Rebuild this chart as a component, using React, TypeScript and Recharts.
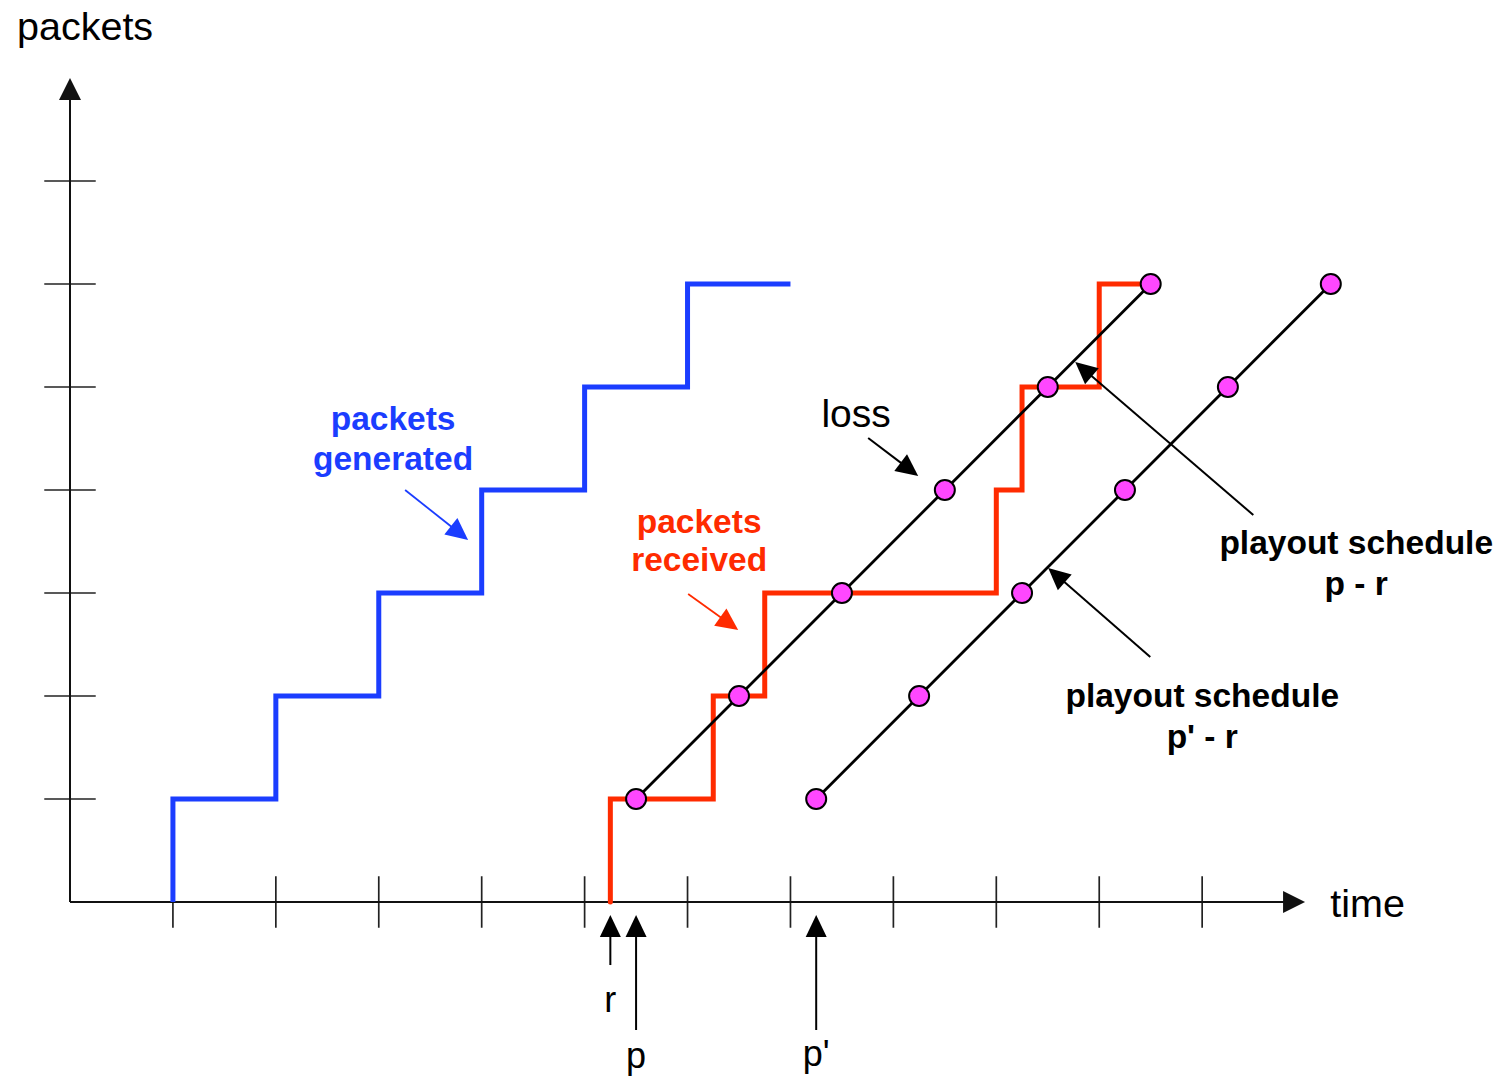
import React from 'react';
import { ComposedChart, Line, XAxis, YAxis, ReferenceLine, ReferenceDot } from 'recharts';

// ---- data (time units on x, packet count on y) ----
const packetCounts = [0, 1, 2, 3, 4, 5, 6];
const generatedTimes = [1, 2, 3, 4, 5, 6, 7];
const receivedTimes = [5.25, 6.25, 6.75, 9, 9.25, 10, 10.5];
const playoutCounts = [1, 2, 3, 4, 5, 6];
const playoutTimesP = [5.5, 6.5, 7.5, 8.5, 9.5, 10.5];
const playoutTimesP2 = [7.25, 8.25, 9.25, 10.25, 11.25, 12.25];
const xTicks = [1, 2, 3, 4, 5, 6, 7, 8, 9, 10, 11];
const yTicks = [1, 2, 3, 4, 5, 6, 7];

const generatedData = generatedTimes.map((x, i) => ({ x, y: packetCounts[i] }));
const receivedData = receivedTimes.map((x, i) => ({ x, y: packetCounts[i] }));
const scheduleP = playoutTimesP.map((x, i) => ({ x, y: playoutCounts[i] }));
const scheduleP2 = playoutTimesP2.map((x, i) => ({ x, y: playoutCounts[i] }));

// ---- annotations (in data units) ----
const BLUE = '#1b3dff';
const RED = '#ff2b00';
const PINK = '#ff47ff';
const FONT = '"Liberation Sans", Arial, Helvetica, sans-serif';
const TICK_HALF_X = 0.25; // half-length of x ticks in y units
const TICK_HALF_Y = 0.25; // half-length of y ticks in x units

const axisArrows = [
  { from: [0, 0], to: [12, 0] },
  { from: [0, 0], to: [0, 8] },
];

const noteArrows = [
  { from: [7.755, 4.505], to: [8.241, 4.136], color: '#000' },
  { from: [11.497, 3.757], to: [9.767, 5.243], color: '#000' },
  { from: [10.496, 2.379], to: [9.504, 3.243], color: '#000' },
  { from: [3.256, 4.0], to: [3.868, 3.515], color: BLUE },
  { from: [6.006, 2.99], to: [6.492, 2.641], color: RED },
  { from: [5.25, -0.612], to: [5.25, -0.126], color: '#000' },
  { from: [5.5, -1.243], to: [5.5, -0.126], color: '#000' },
  { from: [7.25, -1.243], to: [7.25, -0.126], color: '#000' },
];

const labels = [
  { text: 'packets', x: -0.515, y: 8.369, anchor: 'start', size: 39.5, bold: false, color: '#000' },
  { text: 'time', x: 12.245, y: -0.146, anchor: 'start', size: 39.5, bold: false, color: '#000' },
  { text: 'loss', x: 7.638, y: 4.612, anchor: 'middle', size: 39, bold: false, color: '#000' },
  { text: 'packets', x: 3.139, y: 4.583, anchor: 'middle', size: 33.5, bold: true, color: BLUE },
  { text: 'generated', x: 3.139, y: 4.194, anchor: 'middle', size: 33.5, bold: true, color: BLUE },
  { text: 'packets', x: 6.113, y: 3.583, anchor: 'middle', size: 33.5, bold: true, color: RED },
  { text: 'received', x: 6.113, y: 3.214, anchor: 'middle', size: 33.5, bold: true, color: RED },
  { text: 'playout schedule', x: 12.497, y: 3.379, anchor: 'middle', size: 33.5, bold: true, color: '#000' },
  { text: 'p - r', x: 12.497, y: 2.981, anchor: 'middle', size: 33.5, bold: true, color: '#000' },
  { text: 'playout schedule', x: 11.001, y: 1.893, anchor: 'middle', size: 33.5, bold: true, color: '#000' },
  { text: "p' - r", x: 11.001, y: 1.495, anchor: 'middle', size: 33.5, bold: true, color: '#000' },
  { text: 'r', x: 5.248, y: -1.068, anchor: 'middle', size: 36, bold: false, color: '#000' },
  { text: 'p', x: 5.5, y: -1.612, anchor: 'middle', size: 36, bold: false, color: '#000' },
  { text: "p'", x: 7.25, y: -1.592, anchor: 'middle', size: 36, bold: false, color: '#000' },
];

const makeArrow = (color: string, width: number, headLen: number, headHalf: number) => (props: any) => {
  const { x1, y1, x2, y2 } = props;
  const dx = x2 - x1;
  const dy = y2 - y1;
  const len = Math.hypot(dx, dy) || 1;
  const ux = dx / len;
  const uy = dy / len;
  const bx = x2 - ux * headLen;
  const by = y2 - uy * headLen;
  const px = -uy;
  const py = ux;
  return (
    <g>
      <line x1={x1} y1={y1} x2={bx + ux * 2} y2={by + uy * 2} stroke={color} strokeWidth={width} />
      <polygon
        points={`${x2},${y2} ${bx + px * headHalf},${by + py * headHalf} ${bx - px * headHalf},${by - py * headHalf}`}
        fill={color}
      />
    </g>
  );
};

const tickShape = (props: any) => (
  <line x1={props.x1} y1={props.y1} x2={props.x2} y2={props.y2} stroke="#222" strokeWidth={1.7} />
);

const makeText = (l: any) => (props: any) => (
  <text
    x={props.cx}
    y={props.cy}
    textAnchor={l.anchor}
    fontSize={l.size}
    fontWeight={l.bold ? 'bold' : 'normal'}
    fontFamily={FONT}
    fill={l.color}
  >
    {l.text}
  </text>
);

const PlayDot = (props: any) => {
  const { cx, cy } = props;
  return <circle cx={cx} cy={cy} r={10} fill={PINK} stroke="#000" strokeWidth={2} />;
};

export default function App() {
  return (
    <div style={{ position: 'absolute', left: 0, top: 0, background: '#fff' }}>
      <ComposedChart width={1503} height={1076} margin={{ top: 78, right: 95, bottom: 174, left: 70 }}>
        <XAxis type="number" dataKey="x" domain={[0, 13]} hide />
        <YAxis type="number" dataKey="y" domain={[0, 8]} hide />
        {xTicks.map((t) => (
          <ReferenceLine
            key={`xt${t}`}
            segment={[{ x: t, y: -TICK_HALF_X }, { x: t, y: TICK_HALF_X }]}
            ifOverflow="visible"
            shape={tickShape}
          />
        ))}
        {yTicks.map((t) => (
          <ReferenceLine
            key={`yt${t}`}
            segment={[{ x: -TICK_HALF_Y, y: t }, { x: TICK_HALF_Y, y: t }]}
            ifOverflow="visible"
            shape={tickShape}
          />
        ))}
        {axisArrows.map((a, i) => (
          <ReferenceLine
            key={`ax${i}`}
            segment={[{ x: a.from[0], y: a.from[1] }, { x: a.to[0], y: a.to[1] }]}
            ifOverflow="visible"
            shape={makeArrow('#111', 2, 22, 11)}
          />
        ))}
        <Line
          data={generatedData}
          dataKey="y"
          type="stepBefore"
          stroke={BLUE}
          strokeWidth={5}
          dot={false}
          activeDot={false}
          isAnimationActive={false}
        />
        <Line
          data={receivedData}
          dataKey="y"
          type="stepBefore"
          stroke={RED}
          strokeWidth={5}
          strokeLinecap="round"
          dot={false}
          activeDot={false}
          isAnimationActive={false}
        />
        <Line
          data={scheduleP}
          dataKey="y"
          type="linear"
          stroke="#000"
          strokeWidth={2.8}
          dot={<PlayDot />}
          activeDot={false}
          isAnimationActive={false}
        />
        <Line
          data={scheduleP2}
          dataKey="y"
          type="linear"
          stroke="#000"
          strokeWidth={2.8}
          dot={<PlayDot />}
          activeDot={false}
          isAnimationActive={false}
        />
        {noteArrows.map((a, i) => (
          <ReferenceLine
            key={`na${i}`}
            segment={[{ x: a.from[0], y: a.from[1] }, { x: a.to[0], y: a.to[1] }]}
            ifOverflow="visible"
            shape={makeArrow(a.color, a.color === '#000' ? 2 : 1.8, 22, 10.5)}
          />
        ))}
        {labels.map((l, i) => (
          <ReferenceDot key={`lb${i}`} x={l.x} y={l.y} r={1} ifOverflow="visible" shape={makeText(l)} />
        ))}
      </ComposedChart>
    </div>
  );
}
